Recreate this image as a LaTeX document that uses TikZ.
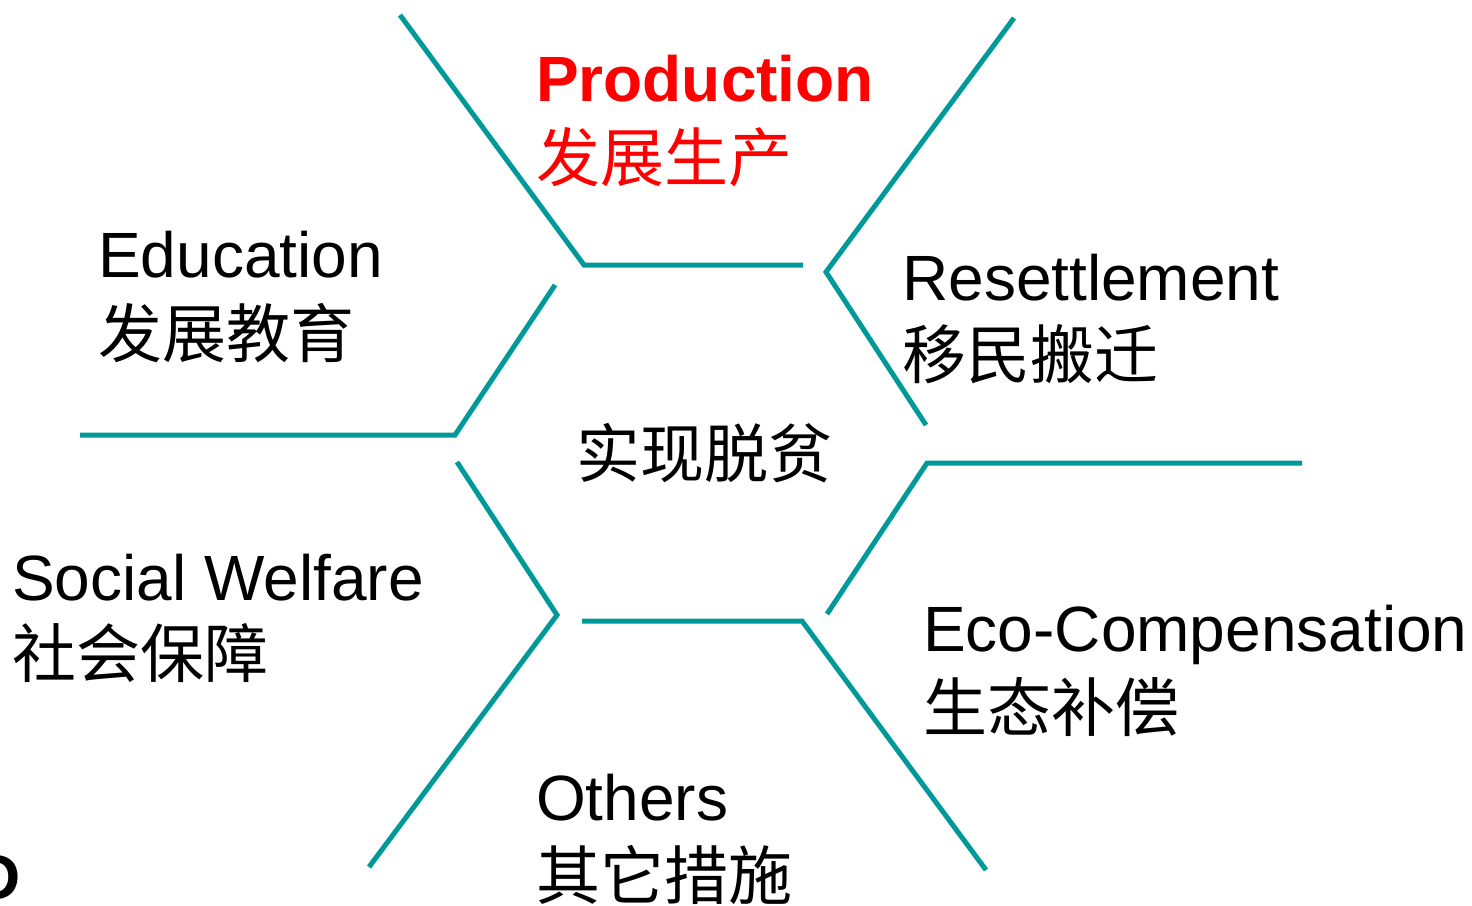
\documentclass[tikz,border=0pt]{standalone}
\usepackage{fontspec}
\setmainfont{Liberation Sans}
\newfontfamily\cjk{Noto Sans CJK SC}
\definecolor{teal1}{HTML}{009999}
\definecolor{red1}{HTML}{FF0000}
\begin{document}
\begin{tikzpicture}[x=1pt,y=-1pt,
  seg/.style={draw=teal1,line width=5pt,line cap=butt,line join=miter},
  en/.style={anchor=base west,inner sep=0pt,font=\fontsize{64}{64}\selectfont},
  zh/.style={anchor=base west,inner sep=0pt,font=\fontsize{64}{64}\selectfont\cjk},
  hl/.style={text=red1}]
\useasboundingbox (0,0) rectangle (1472,905);
\clip (0,0) rectangle (1472,905);
% line coordinates
\coordinate (p1) at (400,15);  \coordinate (p2) at (584,265); \coordinate (p3) at (803,265);
\coordinate (r1) at (1014,18); \coordinate (r2) at (826,272); \coordinate (r3) at (926,425);
\coordinate (e1) at (555,285); \coordinate (e2) at (455,435); \coordinate (e3) at (80,435);
\coordinate (c1) at (1302,463); \coordinate (c2) at (927,463); \coordinate (c3) at (827,614);
\coordinate (s1) at (457,462); \coordinate (s2) at (557,615); \coordinate (s3) at (369,867);
\coordinate (o1) at (582,621); \coordinate (o2) at (802,621); \coordinate (o3) at (986,870);
\draw[seg] (p1) -- (p2) -- (p3);
\draw[seg] (r1) -- (r2) -- (r3);
\draw[seg] (e1) -- (e2) -- (e3);
\draw[seg] (c1) -- (c2) -- (c3);
\draw[seg] (s1) -- (s2) -- (s3);
\draw[seg] (o1) -- (o2) -- (o3);
% labels
\node[en,hl,font=\fontsize{64}{64}\selectfont\bfseries] (prodEn) at (536,101) {Production};
\node[zh,hl] (prodZh) at (536,181) {发展生产};
\node[en] (eduEn) at (98,277) {Education};
\node[zh] (eduZh) at (98,357) {发展教育};
\node[en] (resEn) at (902,300) {Resettlement};
\node[zh] (resZh) at (902,378) {移民搬迁};
\node[zh] (center) at (576,477) {实现脱贫};
\node[en] (socEn) at (12,600) {Social Welfare};
\node[zh] (socZh) at (12,677) {社会保障};
\node[en] (ecoEn) at (923,651) {Eco-Compensation};
\node[zh] (ecoZh) at (923,731) {生态补偿};
\node[en] (othEn) at (536,820) {Others};
\node[zh] (othZh) at (536,899) {其它措施};
\node[en,font=\fontsize{64}{64}\selectfont\bfseries] (frag) at (-26,899) {D};
\end{tikzpicture}
\end{document}
